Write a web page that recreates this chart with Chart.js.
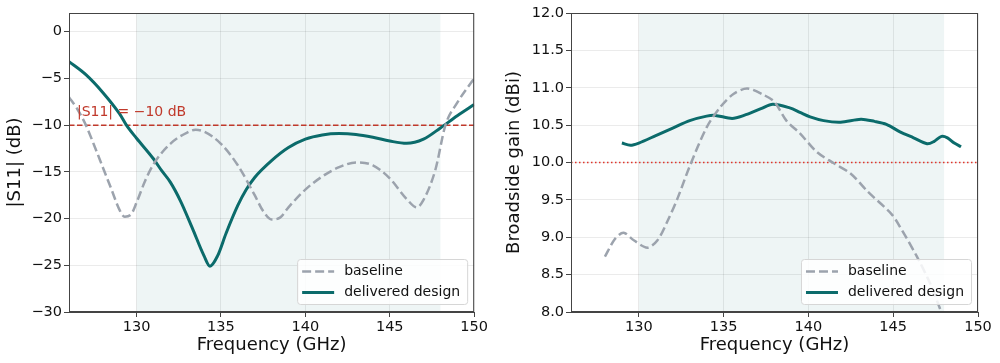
<!DOCTYPE html>
<html>
<head>
<meta charset="utf-8">
<script src="https://cdn.jsdelivr.net/npm/chart.js@4.4.1/dist/chart.umd.min.js"></script>
<style>
  html, body { margin: 0; padding: 0; background: #fff; }
  #wrap { position: relative; width: 1000px; height: 363px; }
  #s11Box { position: absolute; left: 0; top: 0; width: 490px; height: 363px; }
  #gainBox { position: absolute; left: 490px; top: 0; width: 510px; height: 363px; }
</style>
</head>
<body>
<div id="wrap">
  <div id="s11Box"><canvas id="s11Chart" width="490" height="363"></canvas></div>
  <div id="gainBox"><canvas id="gainChart" width="510" height="363"></canvas></div>
</div>
<script>
// shared
const freqTicks = [130, 135, 140, 145, 150];
const band = [130, 148];

// |S11| panel
const s11BaselineFreq = [126, 126.5, 127, 127.5, 128, 128.5, 129, 129.3, 129.7, 130, 130.5, 131, 132, 133, 133.5, 134, 135, 136, 137, 137.5, 138, 138.5, 139, 140, 141, 142, 143, 144, 145, 146, 146.6, 147, 147.7, 148.3, 149, 150];
const s11BaselineDb = [-7.0, -8.3, -10.0, -12.2, -14.5, -16.8, -19.1, -19.8, -19.5, -18.3, -16.0, -14.2, -12.0, -10.8, -10.5, -10.7, -12.0, -14.3, -17.5, -19.2, -20.1, -19.9, -18.8, -16.9, -15.5, -14.5, -14.0, -14.3, -15.7, -17.9, -18.8, -18.0, -14.8, -10.0, -7.6, -5.0];
const s11DeliveredFreq = [126, 127, 128, 129, 129.4, 130, 131, 131.5, 132, 132.6, 133.3, 134, 134.35, 134.8, 135.3, 136, 136.5, 137, 138, 139, 140, 141, 142, 143, 144, 145, 146, 147, 148, 149, 150];
const s11DeliveredDb = [-3.2, -4.6, -6.5, -8.8, -10.0, -11.4, -13.6, -14.9, -16.1, -18.1, -21.0, -24.0, -25.1, -24.0, -21.6, -18.6, -16.9, -15.6, -13.8, -12.4, -11.5, -11.05, -10.9, -11.0, -11.3, -11.7, -11.95, -11.5, -10.3, -9.0, -7.8];
const s11Ticks = [-30, -25, -20, -15, -10, -5, 0];
const s11Limit = -10;

// gain panel
const gainBaselineFreq = [128, 128.6, 129.1, 129.7, 130.5, 131.1, 131.7, 132.3, 133, 134, 134.8, 135.6, 136.4, 137.4, 138, 138.7, 139.5, 140.5, 141.5, 142.5, 143.5, 144.9, 145.4, 146.4, 147.2, 147.8, 148];
const gainBaselineDbi = [8.74, 8.98, 9.06, 8.96, 8.86, 8.96, 9.22, 9.53, 9.95, 10.47, 10.74, 10.92, 10.99, 10.90, 10.81, 10.56, 10.39, 10.14, 9.99, 9.85, 9.61, 9.31, 9.14, 8.74, 8.37, 8.02, 7.9];
const gainDeliveredFreq = [129, 129.5, 130, 131, 132, 133, 134, 134.5, 135.5, 136.2, 137.2, 137.9, 138.9, 139.5, 140.1, 140.9, 141.9, 143.1, 143.9, 144.6, 145.4, 146.2, 147, 147.4, 147.85, 148.2, 148.6, 149];
const gainDeliveredDbi = [10.26, 10.23, 10.26, 10.36, 10.46, 10.56, 10.62, 10.63, 10.59, 10.63, 10.72, 10.78, 10.73, 10.67, 10.61, 10.56, 10.54, 10.58, 10.55, 10.51, 10.41, 10.33, 10.25, 10.28, 10.35, 10.33, 10.26, 10.21];
const gainTicks = [8.0, 8.5, 9.0, 9.5, 10.0, 10.5, 11.0, 11.5, 12.0];
const gainLimit = 10;

const FONT = "'DejaVu Sans', sans-serif";
const TEAL = '#0b6b6b';
const GREY = '#9ca3ad';

function pts(xs, ys) {
  return xs.map((x, i) => ({ x: x, y: ys[i] }));
}

// shaded band behind grid + frame + legend
const panelPlugin = {
  id: 'panel',
  beforeDraw(chart) {
    const { ctx, chartArea, scales } = chart;
    const x0 = scales.x.getPixelForValue(band[0]);
    const x1 = scales.x.getPixelForValue(band[1]);
    ctx.save();
    ctx.fillStyle = 'rgba(14,107,107,0.07)';
    ctx.fillRect(x0, chartArea.top, x1 - x0, chartArea.bottom - chartArea.top);
    ctx.restore();
  },
  afterDraw(chart) {
    const { ctx, chartArea } = chart;
    ctx.save();
    ctx.strokeStyle = '#444';
    ctx.lineWidth = 1;
    ctx.strokeRect(chartArea.left + 0.5, chartArea.top + 0.5, chartArea.right - chartArea.left - 1, chartArea.bottom - chartArea.top - 1);

    // legend, lower right
    const items = chart.data.datasets.filter(d => d.label);
    ctx.font = '14px ' + FONT;
    let tw = 0;
    items.forEach(d => { tw = Math.max(tw, ctx.measureText(d.label).width); });
    const w = 5 + 32 + 10 + tw + 7;
    const h = 45;
    const bx = chartArea.right - 7 - w;
    const by = chartArea.bottom - 8 - h;
    ctx.fillStyle = 'rgba(255,255,255,0.85)';
    ctx.strokeStyle = '#d6d6d6';
    ctx.beginPath();
    ctx.roundRect(bx + 0.5, by + 0.5, w, h, 3);
    ctx.fill();
    ctx.stroke();
    items.forEach((d, i) => {
      const cy = by + 12.5 + i * 21;
      ctx.strokeStyle = d.borderColor;
      ctx.lineWidth = d.borderWidth;
      ctx.setLineDash(d.borderDash || []);
      ctx.beginPath();
      ctx.moveTo(bx + 5, cy);
      ctx.lineTo(bx + 37, cy);
      ctx.stroke();
      ctx.setLineDash([]);
      ctx.fillStyle = '#111';
      ctx.textBaseline = 'middle';
      ctx.fillText(d.label, bx + 47, cy);
    });
    ctx.restore();
  }
};

function keepTicks(list) {
  return function (axis) {
    axis.ticks = list.map(v => ({ value: v }));
  };
}

function axisOpts(min, max, ticks, title, fmt, width, titlePad) {
  return {
    type: 'linear',
    min: min,
    max: max,
    afterBuildTicks: keepTicks(ticks),
    afterFit(a) { if (width) a.width = width; },
    grid: { color: 'rgba(0,0,0,0.08)', tickColor: '#444', tickLength: 5 },
    border: { color: '#444' },
    ticks: { color: '#111', font: { family: FONT, size: 14.5 }, padding: 2, callback: fmt, maxRotation: 0, autoSkip: false },
    title: { display: true, text: title, color: '#111', font: { family: FONT, size: 18 }, padding: { top: titlePad, bottom: titlePad } }
  };
}

const minus = v => (v < 0 ? '\u2212' + Math.abs(v) : String(v));

function xAxis() {
  const o = axisOpts(126, 150, freqTicks, 'Frequency (GHz)', v => String(v), 0, 7);
  o.afterFit = a => { a.height = 51; };
  return o;
}

const common = {
  responsive: false,
  devicePixelRatio: 1,
  animation: false,
  plugins: { legend: { display: false }, tooltip: { enabled: false } },
  elements: { point: { radius: 0 } }
};

new Chart(document.getElementById('s11Chart'), {
  type: 'line',
  data: {
    datasets: [
      { label: 'baseline', data: pts(s11BaselineFreq, s11BaselineDb), borderColor: GREY, borderWidth: 2.5, borderDash: [9, 4], cubicInterpolationMode: 'monotone', fill: false },
      { label: 'delivered design', data: pts(s11DeliveredFreq, s11DeliveredDb), borderColor: TEAL, borderWidth: 3, cubicInterpolationMode: 'monotone', fill: false },
      { label: '', data: pts([126, 150], [s11Limit, s11Limit]), borderColor: '#c0392b', borderWidth: 1.5, borderDash: [5.5, 2.5], tension: 0 }
    ]
  },
  options: Object.assign({}, common, {
    layout: { padding: { top: 13, right: 14, left: 0, bottom: 0 } },
    scales: {
      x: xAxis(),
      y: axisOpts(-30, 2, s11Ticks, '|S11| (dB)', minus, 69, 5)
    }
  }),
  plugins: [panelPlugin, {
    id: 's11Note',
    afterDatasetsDraw(chart) {
      const { ctx, scales } = chart;
      ctx.save();
      ctx.font = '14px ' + FONT;
      ctx.fillStyle = '#c0392b';
      ctx.textBaseline = 'alphabetic';
      ctx.fillText('|S11| = \u221210 dB', scales.x.getPixelForValue(126.47), scales.y.getPixelForValue(s11Limit) - 9);
      ctx.restore();
    }
  }]
});

new Chart(document.getElementById('gainChart'), {
  type: 'line',
  data: {
    datasets: [
      { label: 'baseline', data: pts(gainBaselineFreq, gainBaselineDbi), borderColor: GREY, borderWidth: 2.5, borderDash: [9, 4], tension: 0.3, fill: false },
      { label: 'delivered design', data: pts(gainDeliveredFreq, gainDeliveredDbi), borderColor: TEAL, borderWidth: 3, tension: 0.3, fill: false },
      { label: '', data: pts([126, 150], [gainLimit, gainLimit]), borderColor: '#e0352b', borderWidth: 1.5, borderDash: [1.5, 2.5], tension: 0 }
    ]
  },
  options: Object.assign({}, common, {
    layout: { padding: { top: 13, right: 22, left: 0, bottom: 0 } },
    scales: {
      x: xAxis(),
      y: axisOpts(8, 12, gainTicks, 'Broadside gain (dBi)', v => v.toFixed(1), 81, 14)
    }
  }),
  plugins: [panelPlugin]
});
</script>
</body>
</html>
